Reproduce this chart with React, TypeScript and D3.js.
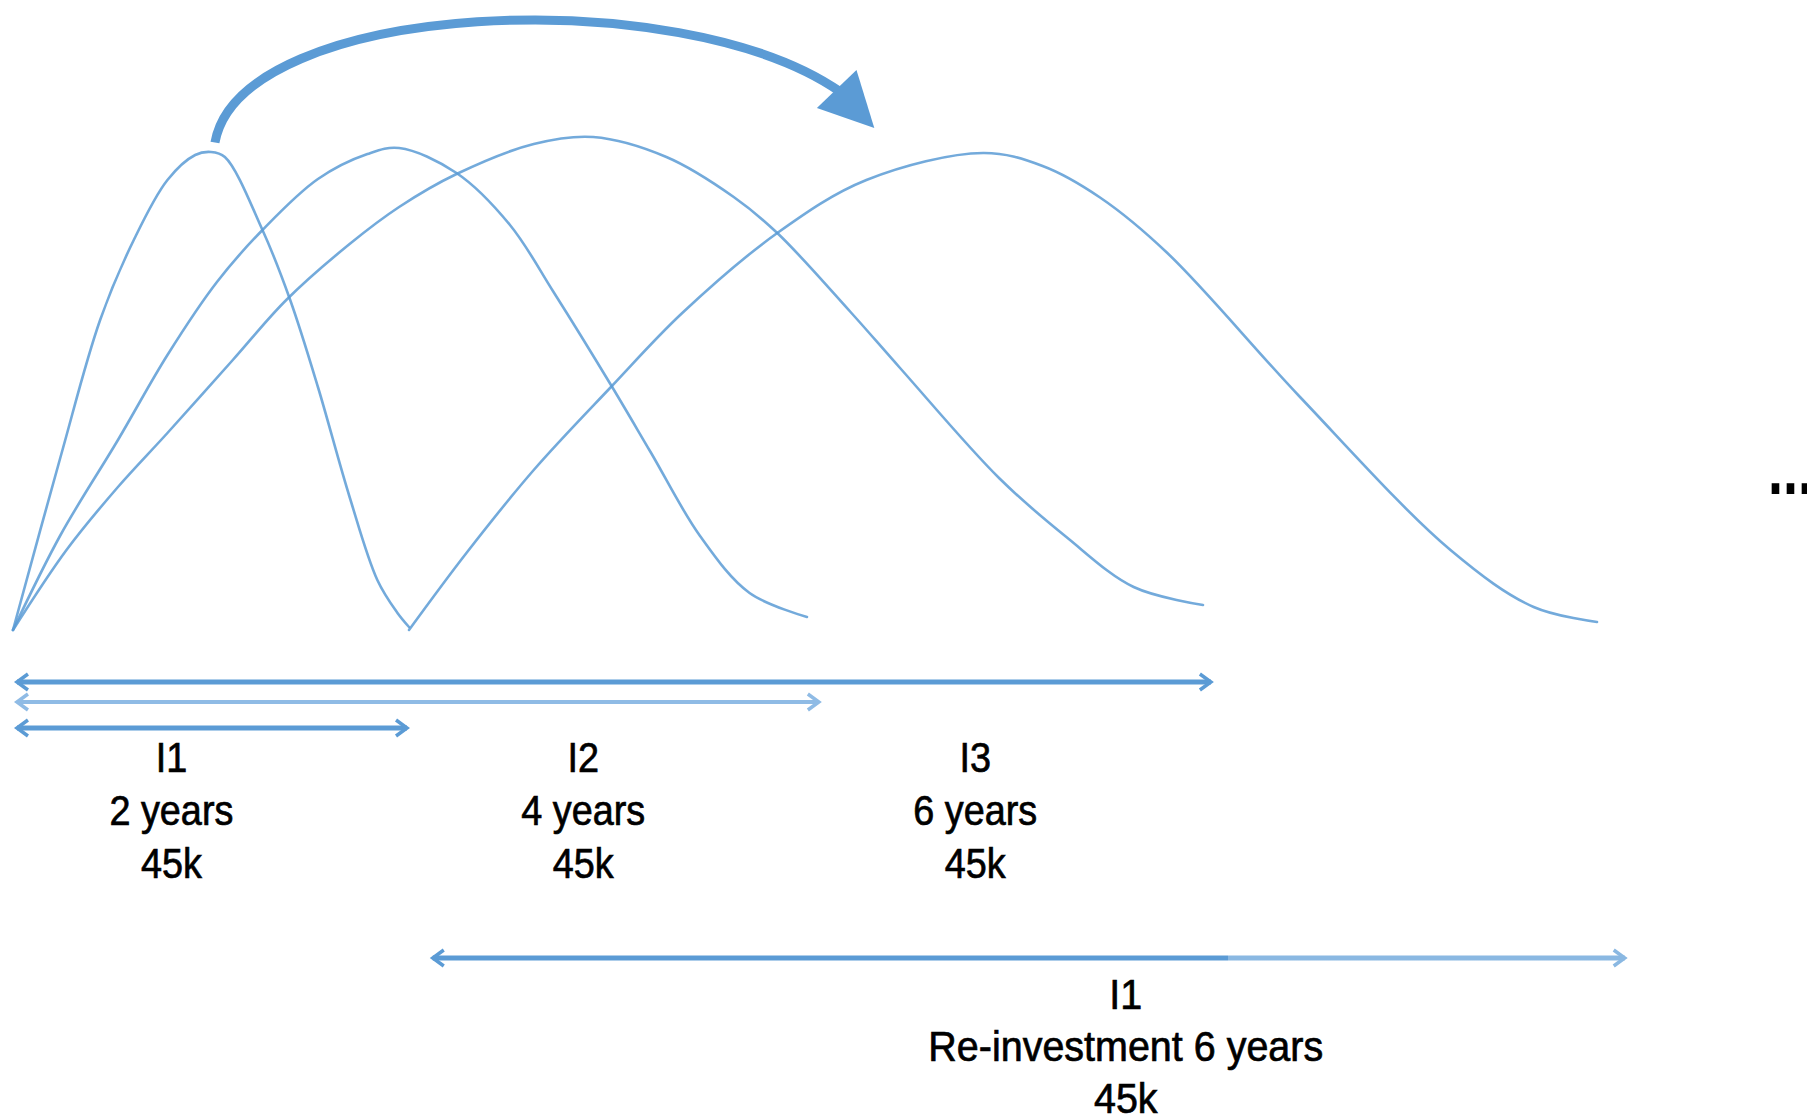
import * as d3 from "d3";

// investment life-cycle curves: [year, relative value]
const curveI1: [number, number][] = [
  [0, 0], [0.24, 34.6], [0.44, 62], [0.61, 78], [0.78, 90], [0.92, 95], [1.0, 95.6],
  [1.07, 94.6], [1.26, 80], [1.4, 66], [1.54, 48.6], [1.7, 26.6], [1.84, 10], [1.94, 3.5], [2.0, 0.6],
];
const curveI2: [number, number][] = [
  [0, 0], [0.24, 19], [0.53, 38], [0.78, 55], [1.03, 69.6], [1.26, 80], [1.54, 90.2], [1.79, 95.2],
  [1.95, 96.4], [2.24, 91.4], [2.51, 81], [2.73, 67.6], [3.02, 49], [3.22, 35.6], [3.47, 18.8],
  [3.72, 7.4], [4.01, 2.6],
];
const curveI3: [number, number][] = [
  [0, 0], [0.27, 16], [0.53, 28.6], [0.78, 39.4], [1.11, 54], [1.38, 66], [1.7, 77.2], [1.95, 84.6],
  [2.24, 91.2], [2.63, 97.2], [2.93, 98.6], [3.3, 94.6], [3.64, 86.6], [3.86, 79.4], [4.23, 63.6],
  [4.48, 52.4], [4.98, 30.4], [5.32, 18.6], [5.66, 8.6], [6.01, 5],
];
const curveReinvest: [number, number][] = [
  [2.0, 0], [2.29, 15.4], [2.63, 32], [3.02, 48.6], [3.38, 63.4], [3.86, 79.4], [4.31, 90],
  [4.9, 95.4], [5.2, 92.8], [5.49, 86.5], [5.83, 75.4], [6.5, 46.6], [7.26, 16], [7.68, 4.6], [8.0, 1.6],
];

// horizontal duration spans in years
const spanStarts = [0.02, 0.02, 0.02];
const spanEnds = [6.05, 4.07, 1.99];
const reinvestSpan = [2.12, 8.14];

// labels under the spans
const investNames = ["I1", "I2", "I3"];
const investDurations = ["2 years", "4 years", "6 years"];
const investAmounts = ["45k", "45k", "45k"];
const labelYears = [0.8, 2.88, 4.86];
const reinvestLines = ["I1", "Re-investment 6 years", "45k"];
const reinvestLabelYear = 5.62;

// big curved arrow (year, value) control points
const jumpArrow: [number, number][] = [[1.02, 97.5], [1.15, 126], [3.37, 130], [4.18, 107.6]];
const jumpHead: [number, number][] = [[4.35, 100.4], [4.26, 112], [4.06, 104.4]];

const W = 1807;
const H = 1118;
const BLUE = "#5b9bd5";
const LIGHT = "#8fbbe5";

export default function App() {
  const x = d3.scaleLinear().domain([0, 8]).range([13, 1597]);
  const y = d3.scaleLinear().domain([0, 100]).range([630, 130]);

  const line = d3
    .line<[number, number]>()
    .x((d) => x(d[0]))
    .y((d) => y(d[1]))
    .curve(d3.curveCatmullRom.alpha(0.5));

  const [p0, c1, c2, p1] = jumpArrow;
  const arrowPath = d3.path();
  arrowPath.moveTo(x(p0[0]), y(p0[1]));
  arrowPath.bezierCurveTo(x(c1[0]), y(c1[1]), x(c2[0]), y(c2[1]), x(p1[0]), y(p1[1]));

  const headPts = jumpHead.map((d) => `${x(d[0])},${y(d[1])}`).join(" ");

  const rowY = [682, 702, 728];
  const rowColor = [BLUE, LIGHT, BLUE];
  const rowWidth = [5, 4, 5];
  const reinvestY = 958;

  const chevron = (xx: number, yy: number, dir: number) =>
    `M${xx - dir * 11},${yy - 8} L${xx},${yy} L${xx - dir * 11},${yy + 8}`;

  const textStyle = {
    fontFamily: "'Liberation Sans', Arial, sans-serif",
    fontSize: 42,
    fill: "#000",
    stroke: "#000",
    strokeWidth: 0.7,
  } as const;

  const label = (cx: number, by: number, s: string, key: string, sx = 0.9) => (
    <text
      key={key}
      transform={`translate(${cx},${by}) scale(${sx},1)`}
      textAnchor="middle"
      style={textStyle}
    >
      {s}
    </text>
  );

  const rx0 = x(reinvestSpan[0]);
  const rx1 = x(reinvestSpan[1]);

  return (
    <svg
      width={W}
      height={H}
      style={{ position: "absolute", left: 0, top: 0, background: "#fff" }}
    >
      <defs>
        <linearGradient id="reinvestGrad" gradientUnits="userSpaceOnUse" x1={rx0} x2={rx1} y1={0} y2={0}>
          <stop offset="0.667" stopColor={BLUE} />
          <stop offset="0.667" stopColor="#8ab8e2" />
        </linearGradient>
      </defs>

      {/* curves */}
      {[curveI1, curveI2, curveI3, curveReinvest].map((c, i) => (
        <path
          key={i}
          d={line(c) ?? ""}
          fill="none"
          stroke={BLUE}
          strokeWidth={2.6}
          strokeOpacity={0.85}
          strokeLinecap="round"
        />
      ))}

      {/* jump arrow */}
      <path d={arrowPath.toString()} fill="none" stroke={BLUE} strokeWidth={9} />
      <polygon points={headPts} fill={BLUE} />

      {/* duration spans */}
      {spanEnds.map((e, i) => {
        const xs = x(spanStarts[i]);
        const xe = x(e);
        return (
          <g key={i} stroke={rowColor[i]} fill="none">
            <line x1={xs} x2={xe} y1={rowY[i]} y2={rowY[i]} strokeWidth={rowWidth[i]} />
            <path d={chevron(xs, rowY[i], -1)} strokeWidth={3.5} />
            <path d={chevron(xe, rowY[i], 1)} strokeWidth={3.5} />
          </g>
        );
      })}

      {/* re-investment span */}
      <line x1={rx0} x2={rx1} y1={reinvestY} y2={reinvestY} stroke="url(#reinvestGrad)" strokeWidth={5} />
      <path d={chevron(rx0, reinvestY, -1)} stroke={BLUE} strokeWidth={3.5} fill="none" />
      <path d={chevron(rx1, reinvestY, 1)} stroke="#8ab8e2" strokeWidth={3.5} fill="none" />

      {/* labels */}
      {labelYears.map((yr, i) => (
        <g key={i}>
          {label(x(yr), 772, investNames[i], "n")}
          {label(x(yr), 825, investDurations[i], "d")}
          {label(x(yr), 878, investAmounts[i], "a")}
        </g>
      ))}
      {reinvestLines.map((s, i) => label(x(reinvestLabelYear), 1009 + i * 52, s, `r${i}`, 0.94))}

      {/* continuation marker */}
      <text
        x={1768}
        y={494}
        textLength={45}
        lengthAdjust="spacingAndGlyphs"
        style={{ fontFamily: "'Liberation Sans', Arial, sans-serif", fontSize: 72, fontWeight: 700 }}
      >
        ...
      </text>
    </svg>
  );
}
